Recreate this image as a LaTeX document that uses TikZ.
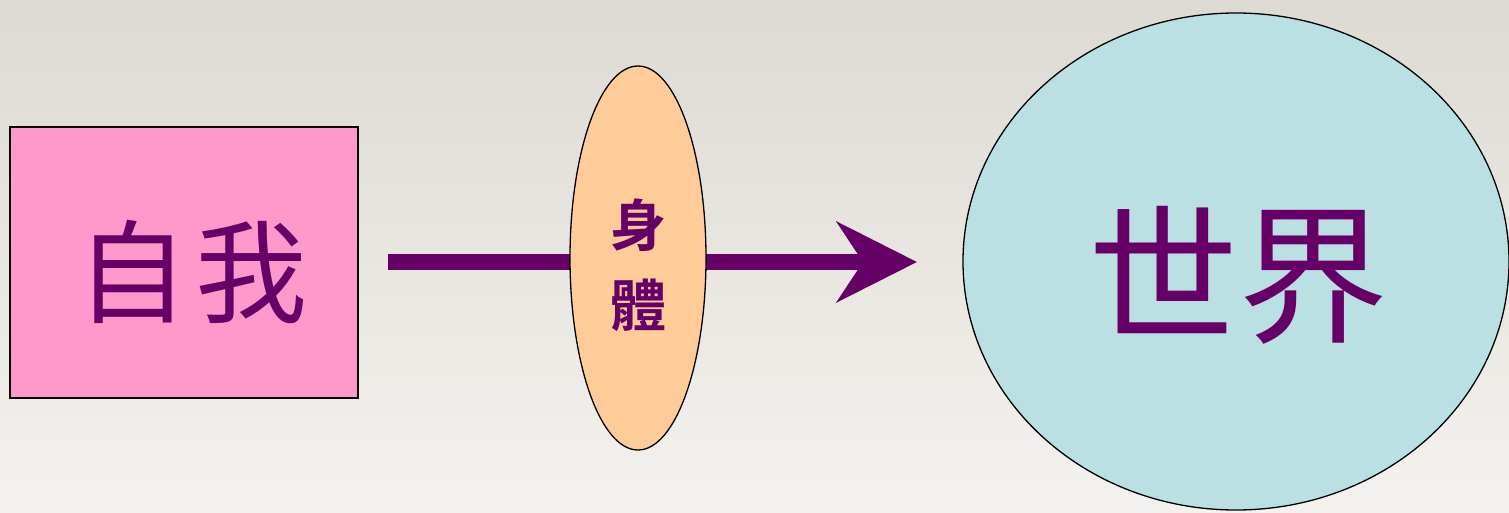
\documentclass[tikz,border=0pt]{standalone}
\usepackage{fontspec}
\newfontfamily\cjk{Noto Sans CJK TC}
\newfontfamily\cjkb{Noto Sans CJK TC Bold}
\usetikzlibrary{shapes.geometric,arrows.meta}
\definecolor{pinkbox}{HTML}{FF99CC}
\definecolor{peach}{HTML}{FFCC99}
\definecolor{skyblue}{HTML}{BAE0E4}
\definecolor{plum}{HTML}{660066}
\definecolor{bgtop}{HTML}{DDDAD4}
\definecolor{bgbot}{HTML}{F4F2EE}
\tikzset{
  shapebase/.style={draw=black, line width=1.3pt, inner sep=0pt},
  selfbox/.style={shapebase, rectangle, fill=pinkbox, minimum width=348pt, minimum height=271pt},
  bodyoval/.style={shapebase, ellipse, fill=peach, minimum width=136pt, minimum height=384pt},
  worldoval/.style={shapebase, ellipse, fill=skyblue, minimum width=546pt, minimum height=497pt},
  flowarrow/.style={draw=plum, line width=16pt, -{Stealth[length=80pt, width=80pt, inset=26pt]}}
}
\begin{document}
\begin{tikzpicture}[x=1pt,y=-1pt]
  \useasboundingbox (0,0) rectangle (1509,513);
  \shade[top color=bgtop, bottom color=bgbot] (0,0) rectangle (1509,513);
  \node[selfbox] (self) at (184,262.5) {};
  \node[text=plum, font=\cjk\fontsize{112}{112}\selectfont, anchor=center] (selftext) at (192,272) {自\hspace{0.06em}我};
  \node[worldoval] (world) at (1236,261.5) {};
  \node[text=plum, font=\cjk\fontsize{150}{150}\selectfont, anchor=center] (worldtext) at (1238,275) {世界};
  \coordinate (arrowstart) at (388,262);
  \coordinate (arrowend) at (917,262);
  \draw[flowarrow] (arrowstart) -- (arrowend);
  \node[bodyoval] (body) at (638,258) {};
  \node[text=plum, font=\cjkb\fontsize{56}{80}\selectfont, align=center, anchor=center] (bodytext) at (638,265) {身\\體};
\end{tikzpicture}
\end{document}
